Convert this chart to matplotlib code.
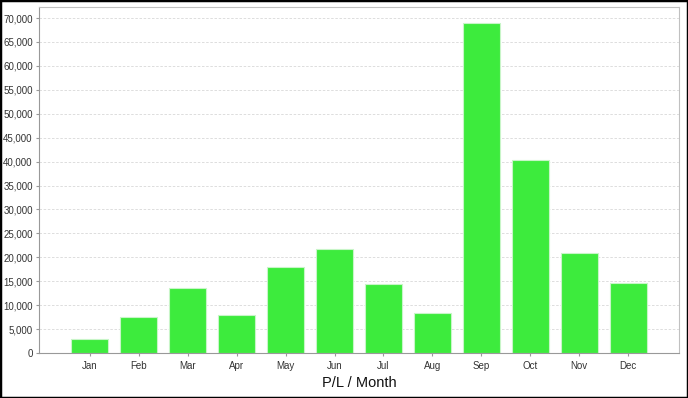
import numpy as np
import matplotlib
matplotlib.use("Agg")
import matplotlib.pyplot as plt
from matplotlib.patches import Rectangle
from matplotlib.ticker import FuncFormatter

plt.rcParams['font.family'] = ['Liberation Sans', 'DejaVu Sans']

## Data
months = ["Jan", "Feb", "Mar", "Apr", "May", "Jun",
          "Jul", "Aug", "Sep", "Oct", "Nov", "Dec"]
pl = [2950, 7450, 13500, 7950, 18000, 21700,
      14500, 8400, 68900, 40400, 21000, 14550]
y_ticks = list(range(0, 70001, 5000))

fig = plt.figure(figsize=(6.88, 3.98), dpi=100)
ax = fig.add_axes([39/688, 1 - 353/398, 640/688, 346/398])

x = np.arange(len(months))
ax.bar(x, pl, width=0.76, color="#3deb3d", edgecolor="#c8f5c8", linewidth=0.8, zorder=2)

ax.set_xlim(-1.04, len(months) + 0.04)
ax.set_ylim(0, 72300)
ax.set_xticks(x)
ax.set_xticklabels(months)
ax.set_yticks(y_ticks)
ax.yaxis.set_major_formatter(FuncFormatter(lambda v, p: f"{int(v):,}"))

ax.grid(axis="y", color="#d8d8d8", linestyle=(0, (3, 2)), linewidth=0.6, zorder=0)
ax.set_axisbelow(True)

for s in ["left", "bottom"]:
    ax.spines[s].set_color("#999999")
for s in ["top", "right"]:
    ax.spines[s].set_color("#c0c0c0")
ax.tick_params(axis="both", labelsize=7, colors="#999999", labelcolor="#333333",
               length=2.5, width=0.8, pad=2)
ax.tick_params(axis="x", pad=3)

ax.set_xlabel("P/L / Month", fontsize=10.5, color="#111111", labelpad=4)

# black frame round the figure
fig.patches.append(Rectangle((0, 0), 1, 1, transform=fig.transFigure, fill=False,
                             edgecolor="black", linewidth=2.5))

fig.savefig("out.png", dpi=100)
